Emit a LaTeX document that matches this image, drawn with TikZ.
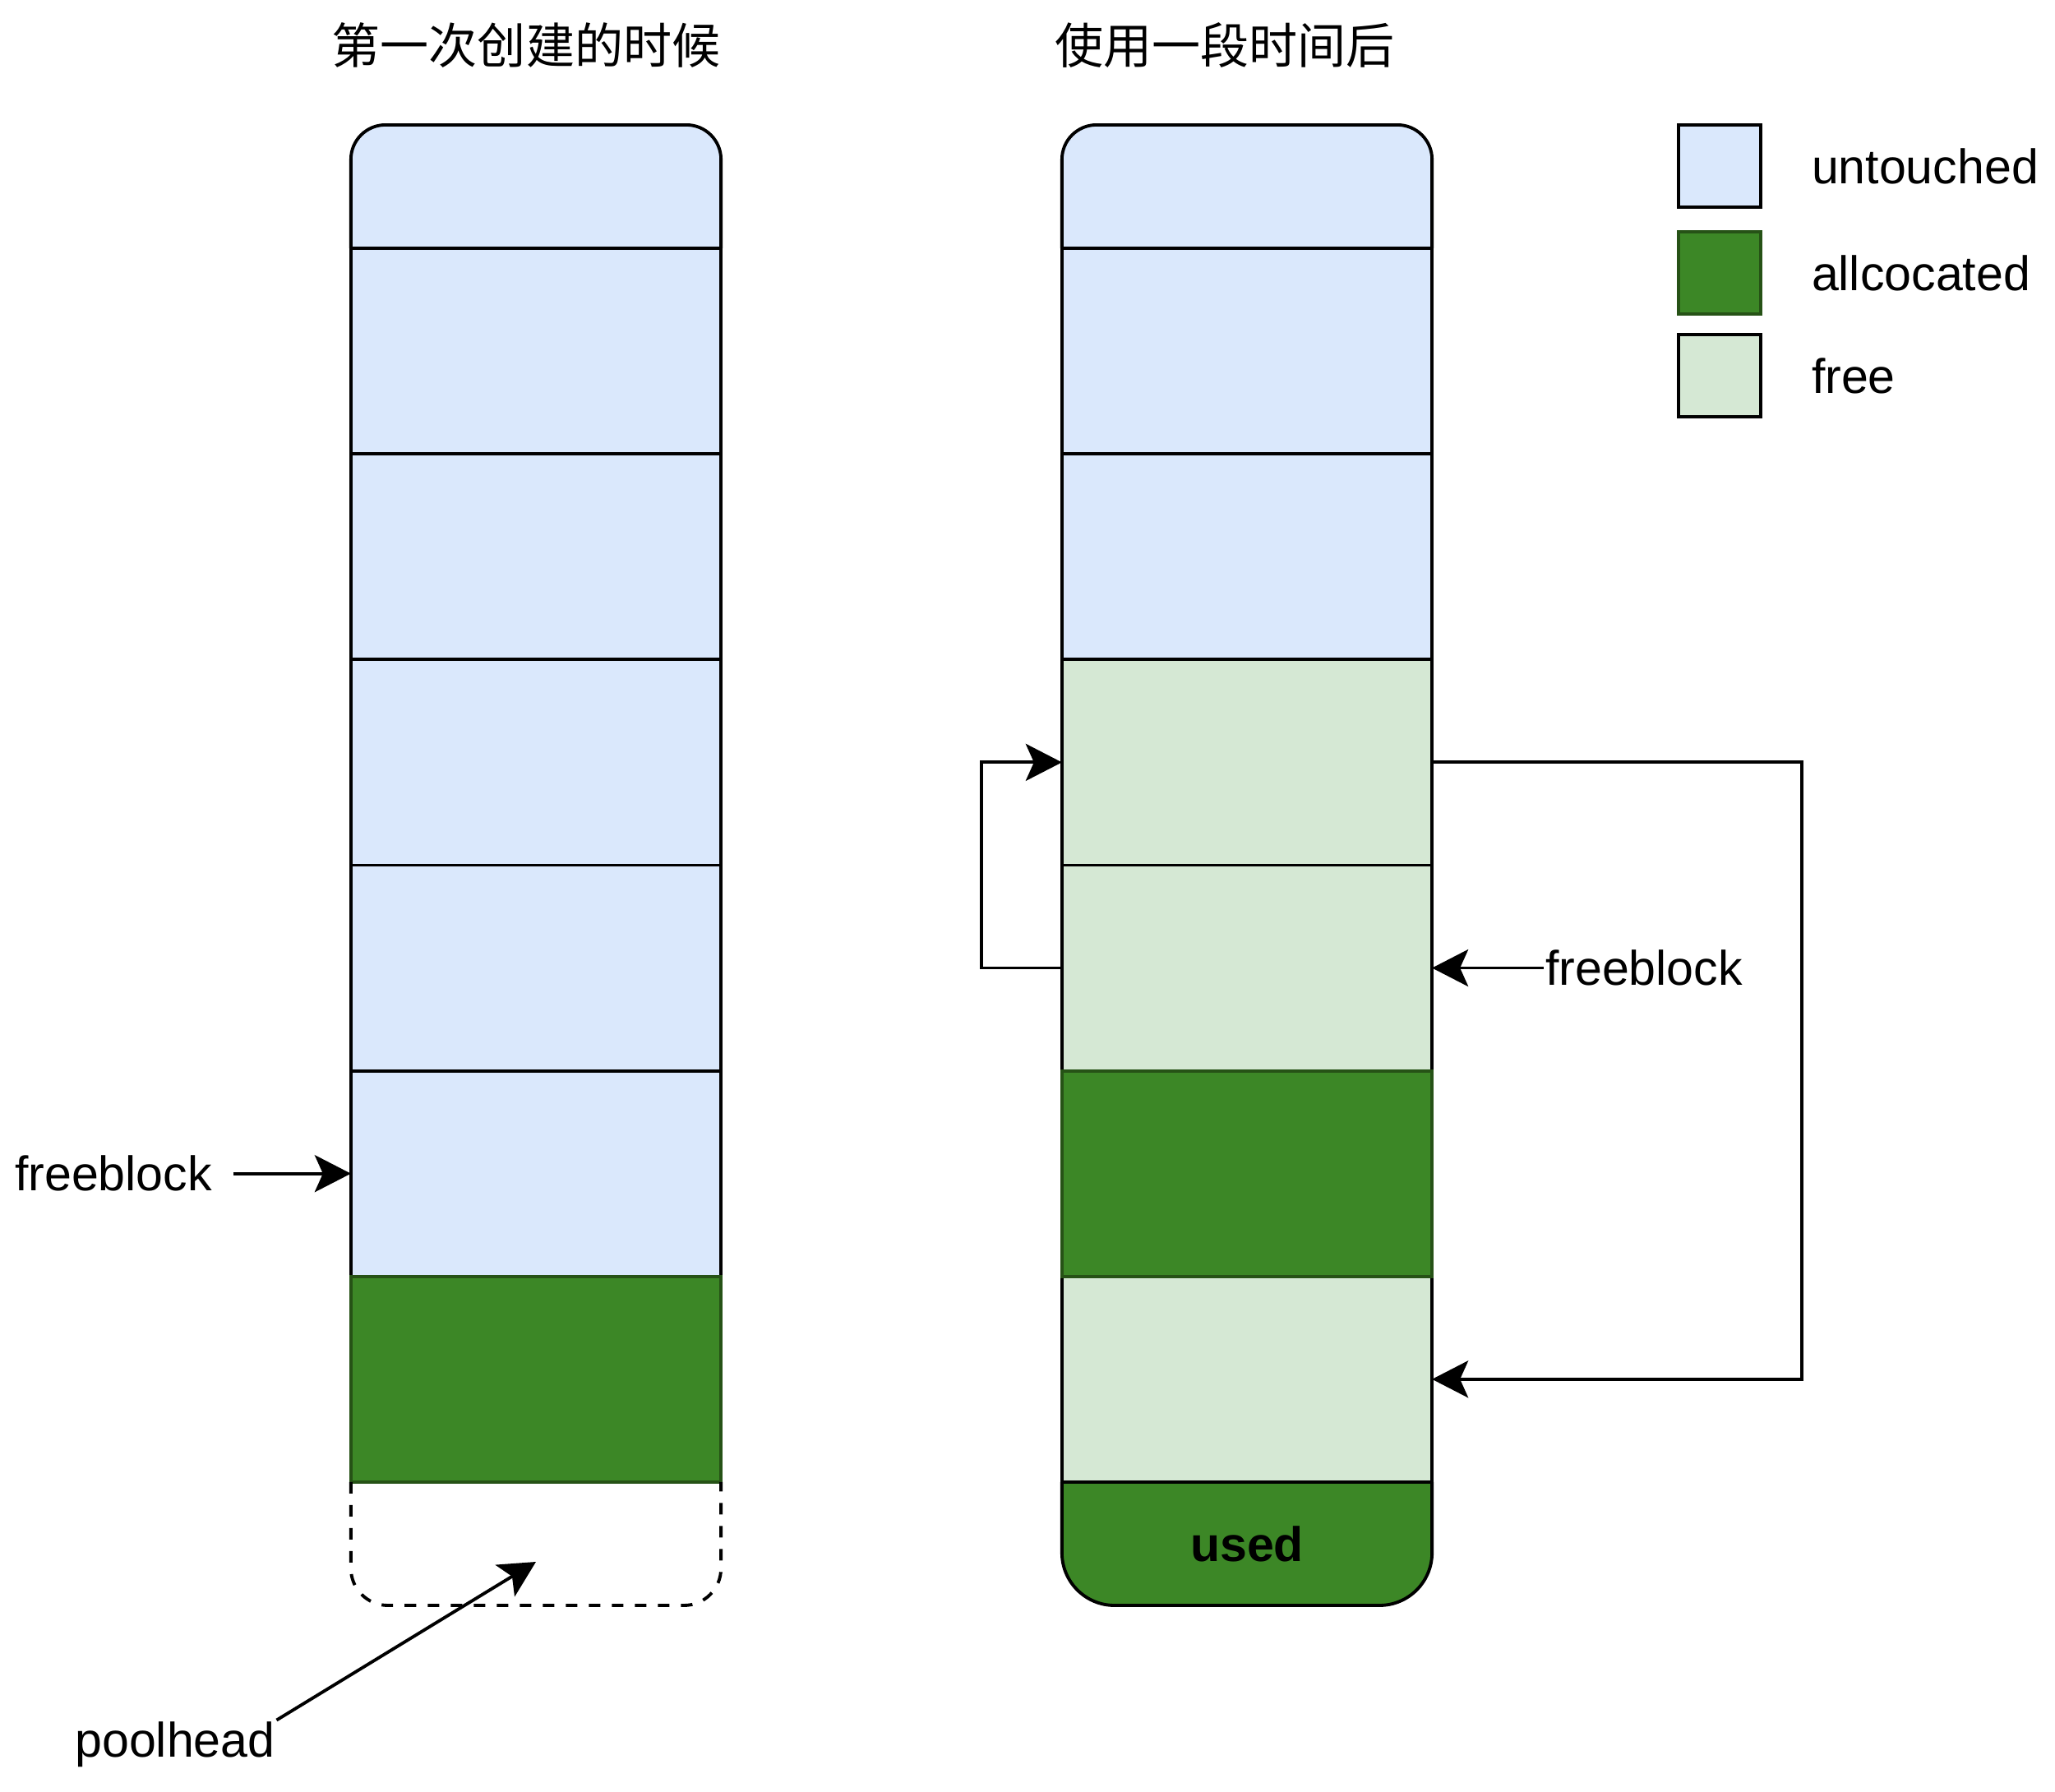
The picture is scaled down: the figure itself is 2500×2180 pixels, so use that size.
\documentclass[tikz,border=0pt]{standalone}
\usepackage{fontspec}
\setmainfont{Liberation Sans}
\newfontfamily\cjk{Noto Sans CJK SC}
\usetikzlibrary{arrows.meta}
\usetikzlibrary{positioning}
\usetikzlibrary{backgrounds}
\definecolor{untouchedc}{HTML}{DAE8FC}
\definecolor{freec}{HTML}{D5E8D4}
\definecolor{allocc}{HTML}{3C8726}
\definecolor{allocd}{HTML}{265216}

\begin{document}
\begin{tikzpicture}[x=0.01cm,y=-0.01cm,line width=1.1pt,
  >={Stealth[length=0.44cm,width=0.45cm,inset=0.1cm]},
  every node/.style={font=\fontsize{16.8}{20}\selectfont}]
\tikzstyle{cell}=[rectangle,draw,outer sep=0,inner sep=0,minimum width=4.5cm,minimum height=2.5cm]
\tikzstyle{top node}=[cell,draw=none,minimum height=1.5cm]
\tikzstyle{blank node}=[cell,fill=untouchedc]
\tikzstyle{free node}=[cell,fill=freec]
\tikzstyle{alloc node}=[cell,fill=allocc,draw=allocd]
\tikzset{
  key node/.style = {cell,minimum width=1cm,minimum height=1cm},
  txt/.style = {inner sep=0},
  title/.style = {inner sep=0,font=\cjk\fontsize{16.8}{20}\selectfont},
  cap line/.style = {draw,line width=1.1pt}
}
\useasboundingbox (0,0) rectangle (2500,2180);

    \node[title] (tl) at (640,55) {第一次创建的时候};
    \node[title] (tr) at (1490,55) {使用一段时间后};

    % left pool
    \node[top node]    (l0) at (652,227) {};
    \node[blank node]  (l1) [below=0pt of l0] {};
    \node[blank node]  (l2) [below=0pt of l1] {};
    \node[blank node]  (l3) [below=0pt of l2] {};
    \node[blank node]  (l4) [below=0pt of l3] {};
    \node[blank node]  (l5) [below=0pt of l4] {};
    \node[alloc node]  (l6) [below=0pt of l5] {};
    \node[top node]    (l7) [below=0pt of l6] {};

    % right pool
    \node[top node]    (r0) at (1517,227) {};
    \node[blank node]  (r1) [below=0pt of r0] {};
    \node[blank node]  (r2) [below=0pt of r1] {};
    \node[free node]   (r3) [below=0pt of r2] {};
    \node[free node]   (r4) [below=0pt of r3] {};
    \node[free node]   (r6) [below=2.5cm of r4] {};
    \node[alloc node]  (r5) [below=0pt of r4] {};
    \node[top node,font=\bfseries\fontsize{16.8}{20}\selectfont] (r7) [below=0pt of r6] {used};

    % legend
    \node[key node,fill=untouchedc] (k1) at (2092,202) {};
    \node[key node,fill=allocc,draw=allocd] (k2) at (2092,332) {};
    \node[key node,fill=freec] (k3) at (2092,457) {};
    \node[txt] (kt1) [right=0.6cm of k1] {untouched};
    \node[txt] (kt2) [right=0.6cm of k2] {allcocated};
    \node[txt] (kt3) [right=0.6cm of k3] {free};

    \node[txt] (fbl) [left=1.67cm of l5] {freeblock};
    \node[txt] (fbr) [right=1.36cm of r4] {freeblock};
    \node[txt] (ph) at (213,2122) {poolhead};
    \coordinate (pt) at (652,1900);

    % rounded ends
    \begin{scope}[on background layer]
    \path[cap line,fill=untouchedc] (l0.south west) -- ([yshift=-0.42cm]l0.north west)
        arc[start angle=180,end angle=90,radius=0.42cm] -- ([xshift=-0.42cm]l0.north east)
        arc[start angle=90,end angle=0,radius=0.42cm] -- (l0.south east);
    \path[cap line,fill=untouchedc] (r0.south west) -- ([yshift=-0.42cm]r0.north west)
        arc[start angle=180,end angle=90,radius=0.42cm] -- ([xshift=-0.42cm]r0.north east)
        arc[start angle=90,end angle=0,radius=0.42cm] -- (r0.south east);
    \path[cap line,fill=allocc] (r7.north west) -- ([yshift=0.64cm]r7.south west)
        arc[start angle=180,end angle=270,radius=0.64cm] -- ([xshift=-0.64cm]r7.south east)
        arc[start angle=270,end angle=360,radius=0.64cm] -- (r7.north east);
    \end{scope}
    \draw[dash pattern=on 0.14cm off 0.14cm,rounded corners=0.45cm]
        (l6.south west) -- (l7.south west) -- (l7.south east) -- (l6.south east);

    \path[->]
        (fbl) edge[shorten <=0.24cm] (l5)
        (fbr) edge (r4)
        (ph.north east) edge (pt);
    \draw[->] (r4.west) -- ++(-98,0) |- (r3.west);
    \draw[->] (r3.east) -- ++(450,0) |- (r6.east);
\end{tikzpicture}
\end{document}
